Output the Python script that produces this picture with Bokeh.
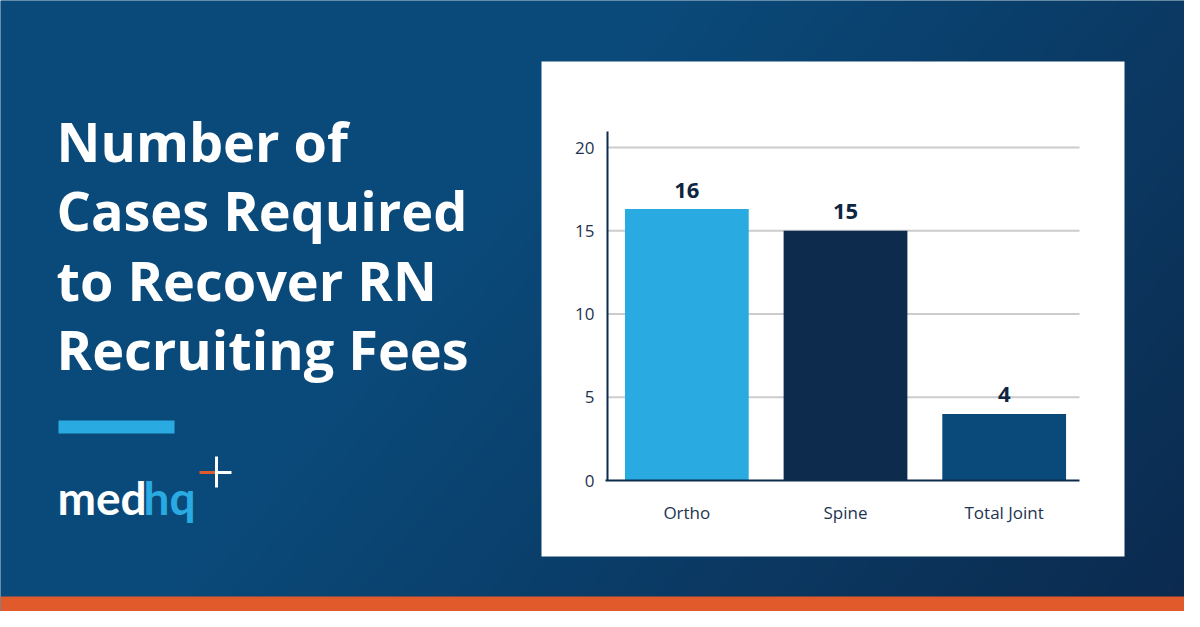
import numpy as np
from bokeh.plotting import figure
from bokeh.models import Range1d, LinearAxis, FixedTicker, ColumnDataSource
from bokeh.core.properties import value
from bokeh.embed import file_html
from bokeh.resources import INLINE

# ---------------- data ----------------
categories = ["Ortho", "Spine", "Total Joint"]
cases = [16.3, 15, 4]
case_labels = ["16", "15", "4"]
bar_colors = ["#29abe2", "#0c2b4d", "#0a4a7a"]
y_ticks = [0, 5, 10, 15, 20]
grid_ticks = [5, 10, 15, 20]
title_lines = ["Number of", "Cases Required", "to Recover RN", "Recruiting Fees"]
logo_parts = ["med", "hq"]

# ---------------- layout (canvas pixels, y downward) ----------------
W, H = 1184, 611
cat_pos = [0.5, 1.5, 2.5]
PLOT_L, PX_PER_CAT = 607.0, 158.67
ZERO_Y, TWENTY_Y = 480.0, 147.0
px_per_val = (ZERO_Y - TWENTY_Y) / 20.0
BASE_FIX = 0.41  # svg text baseline correction (fraction of font size)
VAL_FS = 22
LABEL_GAP = 10.0 + BASE_FIX * VAL_FS

xc_start = -PLOT_L / PX_PER_CAT
xc_end = (W - PLOT_L) / PX_PER_CAT
val_start = -(H - ZERO_Y) / px_per_val
val_end = ZERO_Y / px_per_val

p = figure(width=W, height=H, output_backend="svg", toolbar_location=None,
           x_range=Range1d(0, W), y_range=Range1d(H, 0),
           x_axis_type=None, y_axis_type=None, min_border=0,
           outline_line_color=None, background_fill_color="#0a4a7a",
           border_fill_color="#0a4a7a")
p.extra_x_ranges = {"xc": Range1d(xc_start, xc_end)}
p.extra_y_ranges = {"val": Range1d(val_start, val_end)}

# gradient background
yy, xx = np.mgrid[0:H, 0:W]
t = xx / W * 0.8 + yy / H * 0.35
t = np.clip((t - 0.45) / 0.7, 0, 1)
c0 = np.array([10, 74, 122], dtype=float)
c1 = np.array([12, 42, 78], dtype=float)
rgb = c0 + (c1 - c0) * t[..., None]
img = np.zeros((H, W), dtype=np.uint32)
view = img.view(dtype=np.uint8).reshape((H, W, 4))
view[..., 0:3] = rgb.astype(np.uint8)
view[..., 3] = 255
p.image_rgba(image=[img], x=0, y=0, dw=W, dh=H)

# white panel
p.quad(left=[541], right=[1124], top=[61], bottom=[556], fill_color="white", line_color=None)

# orange strip
p.quad(left=[0], right=[W], top=[596], bottom=[H], fill_color="#e05a2b", line_color=None)

# title
TFS = 54
p.text(x=[56] * 4, y=[b - BASE_FIX * TFS for b in (163, 232, 302, 371)], text=title_lines,
       text_font=value("Open Sans"), text_font_style="bold", text_font_size=f"{TFS}px",
       text_color="white", text_baseline="alphabetic", text_align="left")

# blue dash
p.quad(left=[58], right=[174], top=[420], bottom=[433], fill_color="#29abe2", line_color=None)

# logo
LFS = 46
p.text(x=[57], y=[516 - BASE_FIX * LFS], text=[logo_parts[0]], text_font=value("Lato"),
       text_font_style="bold", text_font_size=f"{LFS}px", text_color="white", text_baseline="alphabetic")
p.text(x=[143], y=[516 - BASE_FIX * LFS], text=[logo_parts[1]], text_font=value("Lato"),
       text_font_style="bold", text_font_size=f"{LFS}px", text_color="#29abe2", text_baseline="alphabetic")
p.segment(x0=[216, 214], y0=[456, 472], x1=[216, 231], y1=[487, 472], line_color="white", line_width=3)
p.segment(x0=[199], y0=[472], x1=[214], y1=[472], line_color="#e05a2b", line_width=3)

# chart: gridlines
p.segment(x0=[0] * len(grid_ticks), x1=[2.975] * len(grid_ticks), y0=grid_ticks, y1=grid_ticks,
          line_color="#cccccc", line_width=2, x_range_name="xc", y_range_name="val")

label_y = [v + LABEL_GAP / px_per_val for v in cases]
src = ColumnDataSource(dict(x=cat_pos, top=cases, ly=label_y, label=case_labels,
                            color=bar_colors, cat=categories))
p.vbar(x="x", top="top", bottom=0, width=0.78, fill_color="color", line_color=None,
       source=src, x_range_name="xc", y_range_name="val")
p.text(x="x", y="ly", text="label", source=src, x_range_name="xc", y_range_name="val",
       text_font=value("Open Sans"), text_font_style="bold", text_font_size=f"{VAL_FS}px",
       text_color="#0d2540", text_align="center", text_baseline="alphabetic")

# axes
yax = LinearAxis(x_range_name="xc", y_range_name="val", fixed_location=0,
                 bounds=(0, 20.95), ticker=FixedTicker(ticks=y_ticks))
yax.axis_line_color = "#0d2b4d"
yax.axis_line_width = 2
yax.major_tick_line_color = None
yax.minor_tick_line_color = None
yax.major_tick_out = 0
yax.minor_tick_out = 0
yax.major_label_standoff = 13
yax.major_label_text_font = "Open Sans"
yax.major_label_text_font_size = "17px"
yax.major_label_text_color = "#1d3450"
p.add_layout(yax, "left")

xax = LinearAxis(x_range_name="xc", y_range_name="val", fixed_location=0,
                 bounds=(-0.01, 2.975), ticker=FixedTicker(ticks=cat_pos),
                 major_label_overrides={k: v for k, v in zip(cat_pos, categories)})
xax.axis_line_color = "#0d2b4d"
xax.axis_line_width = 2
xax.major_tick_line_color = None
xax.minor_tick_line_color = None
xax.major_tick_out = 0
xax.minor_tick_out = 0
xax.major_label_standoff = 20
xax.major_label_text_font = "Open Sans"
xax.major_label_text_font_size = "17px"
xax.major_label_text_color = "#1d3450"
p.add_layout(xax, "below")

open("out.html", "w").write(file_html(p, INLINE))
